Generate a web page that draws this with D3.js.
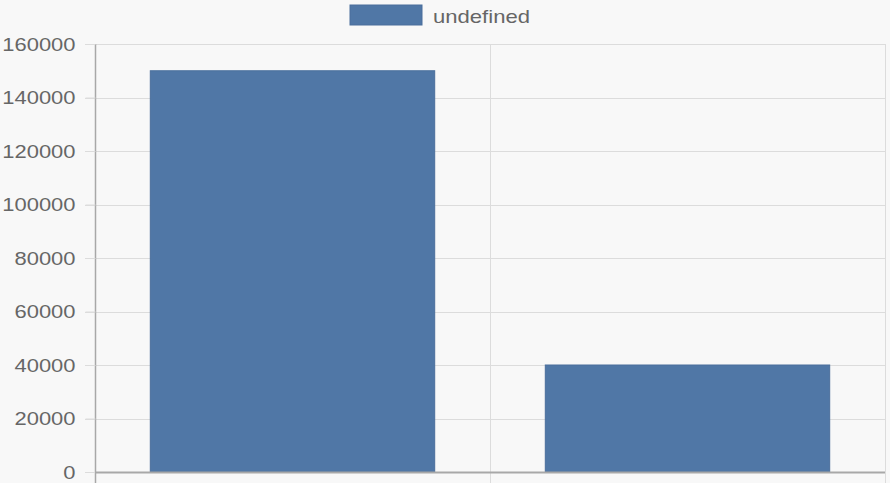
<!DOCTYPE html>
<html>
<head>
<meta charset="utf-8">
<script src="https://cdn.jsdelivr.net/npm/d3@7"></script>
<style>
  html, body { margin: 0; padding: 0; background: #f8f8f8; }
  svg { display: block; font-family: "Liberation Sans", Arial, sans-serif; }
</style>
</head>
<body>
<svg id="chart" width="890" height="483"></svg>
<script>
// chart data
var categories = ["first", "second"];
var seriesValues = [150000, 40000];
var seriesName = "undefined";
var yTicks = [0, 20000, 40000, 60000, 80000, 100000, 120000, 140000, 160000];

var width = 890, height = 483;
var margin = {top: 44, right: 5, bottom: 11, left: 95};
var barColor = "#5077a6";
var textColor = "#666";

var svg = d3.select("#chart");

var x = d3.scaleBand()
    .domain(categories)
    .range([margin.left, width - margin.right])
    .paddingInner(0)
    .paddingOuter(0);

var y = d3.scaleLinear()
    .domain([0, 160000])
    .range([height - margin.bottom, margin.top]);

// horizontal grid
svg.append("g")
    .selectAll("line")
    .data(yTicks)
    .enter()
    .append("line")
    .attr("x1", margin.left - 10)
    .attr("x2", width - margin.right)
    .attr("y1", function (d) { return Math.round(y(d)) + 0.5; })
    .attr("y2", function (d) { return Math.round(y(d)) + 0.5; })
    .attr("stroke", "#dcdcdc")
    .attr("stroke-width", 1);

// vertical grid (category boundaries)
var xLines = categories.map(function (c) { return x(c); }).concat([width - margin.right]);
svg.append("g")
    .selectAll("line")
    .data(xLines)
    .enter()
    .append("line")
    .attr("x1", function (d) { return Math.round(d) + 0.5; })
    .attr("x2", function (d) { return Math.round(d) + 0.5; })
    .attr("y1", margin.top)
    .attr("y2", height)
    .attr("stroke", "#dcdcdc")
    .attr("stroke-width", 1);

// bars (chart.js style: 0.8 * 0.9 of category width)
var barW = x.bandwidth() * 0.72;
svg.append("g")
    .selectAll("rect")
    .data(seriesValues)
    .enter()
    .append("rect")
    .attr("x", function (d, i) { return x(categories[i]) + (x.bandwidth() - barW) / 2; })
    .attr("y", function (d) { return y(d); })
    .attr("width", barW)
    .attr("height", function (d) { return y(0) - y(d); })
    .attr("fill", barColor)
    .attr("stroke", "#4a6f9c")
    .attr("stroke-width", 1);

// y axis
var yAxis = svg.append("g")
    .attr("transform", "translate(" + (margin.left + 0.5) + ",0)")
    .call(d3.axisLeft(y).tickValues(yTicks).tickSize(10).tickPadding(10).tickFormat(d3.format("d")));
yAxis.select(".domain").attr("stroke", "#a8a8a8").attr("stroke-width", 1.5)
    .attr("d", "M0," + margin.top + "V" + height);
yAxis.selectAll(".tick line").attr("stroke", "#dcdcdc");
// the reference glyphs are a little wider than the font, so stretch them
yAxis.selectAll("text")
    .attr("fill", textColor)
    .style("font-size", "19px")
    .attr("textLength", function (d) { return String(d).length * 12.2; })
    .attr("lengthAdjust", "spacingAndGlyphs");

// x axis line
svg.append("line")
    .attr("x1", margin.left)
    .attr("x2", width - margin.right)
    .attr("y1", y(0) + 0.5)
    .attr("y2", y(0) + 0.5)
    .attr("stroke", "#a8a8a8")
    .attr("stroke-width", 2);

// legend
var legend = svg.append("g");
legend.append("rect")
    .attr("x", 350).attr("y", 5)
    .attr("width", 72).attr("height", 20)
    .attr("fill", barColor)
    .attr("stroke", "#4a6f9c");
legend.append("text")
    .attr("x", 433).attr("y", 23)
    .attr("fill", textColor)
    .style("font-size", "19px")
    .attr("textLength", 97)
    .attr("lengthAdjust", "spacingAndGlyphs")
    .text(seriesName);
</script>
</body>
</html>
